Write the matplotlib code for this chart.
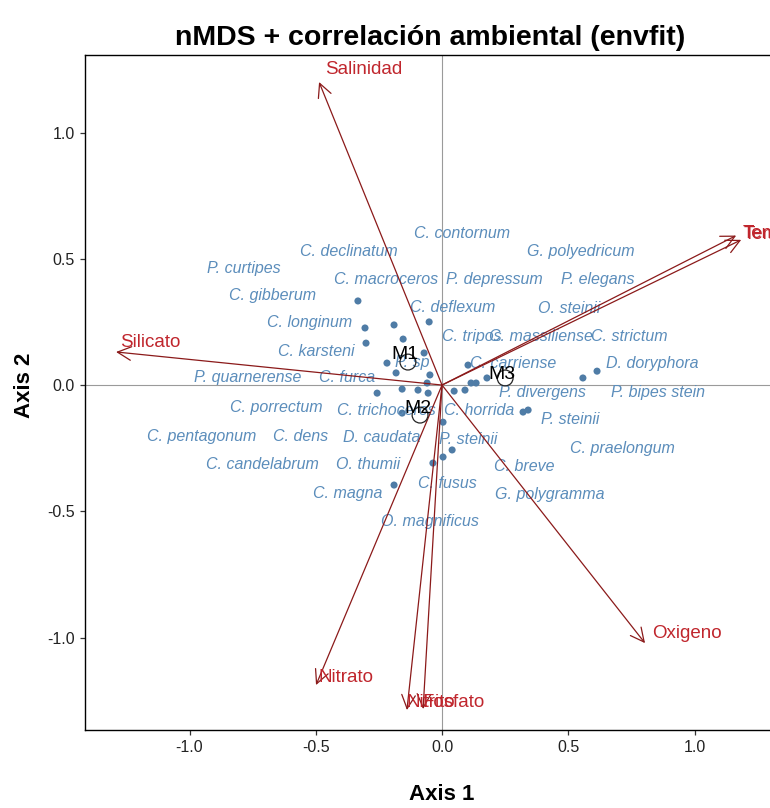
import numpy as np
import matplotlib.pyplot as plt

plt.rcParams['font.family'] = ['Liberation Sans', 'DejaVu Sans']

# species scores (points)
sp_x = [-0.333, -0.305, -0.190, -0.051, -0.301, -0.154, -0.071, -0.218, -0.182, -0.048,
        -0.059, -0.257, -0.158, -0.095, -0.055, 0.048, 0.091, -0.158, 0.004, 0.040,
        0.004, -0.036, -0.190, 0.103, 0.115, 0.135, 0.178, 0.558, 0.614, 0.321, 0.341]
sp_y = [0.333, 0.226, 0.238, 0.250, 0.166, 0.182, 0.127, 0.087, 0.048, 0.040,
        0.008, -0.032, -0.016, -0.020, -0.032, -0.024, -0.020, -0.111, -0.147, -0.257,
        -0.285, -0.309, -0.396, 0.079, 0.008, 0.008, 0.028, 0.028, 0.055, -0.107, -0.099]

# species labels
sp_names = ['C. contornum', 'G. polyedricum', 'P. depressum', 'P. elegans', 'C. deflexum',
            'O. steinii', 'C. tripos', 'C. massiliense', 'C. strictum', 'C. carriense',
            'D. doryphora', 'P. divergens', 'P. bipes stein', 'C. horrida', 'P. steinii',
            'P. steinii', 'C. praelongum', 'C. breve', 'C. fusus', 'G. polygramma',
            'O. magnificus', 'C. declinatum', 'P. curtipes', 'C. macroceros', 'C. gibberum',
            'C. longinum', 'C. karsteni', 'P. sp', 'P. quarnerense', 'C. furca',
            'C. porrectum', 'C. trichoceros', 'C. pentagonum', 'C. dens', 'D. caudata',
            'C. candelabrum', 'O. thumii', 'C. magna']
lab_x = [0.079, 0.550, 0.206, 0.618, 0.044, 0.503, 0.119, 0.392, 0.741, 0.281,
         0.832, 0.396, 0.855, 0.147, 0.507, 0.103, 0.713, 0.325, 0.020, 0.428,
         -0.048, -0.368, -0.784, -0.222, -0.673, -0.523, -0.499, -0.119, -0.768, -0.376,
         -0.657, -0.222, -0.950, -0.562, -0.238, -0.713, -0.293, -0.372]
lab_y = [0.602, 0.527, 0.416, 0.416, 0.309, 0.305, 0.194, 0.194, 0.194, 0.087,
         0.087, -0.028, -0.028, -0.099, -0.135, -0.214, -0.250, -0.321, -0.388, -0.432,
         -0.539, 0.527, 0.463, 0.416, 0.356, 0.246, 0.131, 0.091, 0.028, 0.028,
         -0.087, -0.099, -0.202, -0.202, -0.206, -0.313, -0.313, -0.428]

# sites
sites = ['M1', 'M2', 'M3']
site_x = [-0.135, -0.087, 0.250]
site_y = [0.091, -0.119, 0.028]
site_lab_x = [-0.147, -0.095, 0.238]
site_lab_y = [0.119, -0.091, 0.040]

# envfit vectors
env_names = ['Salinidad', 'Temperatura', 'Temperatura', 'Silicato', 'Oxigeno',
             'Nitrato', 'Nitrito', 'Fosfato']
env_x = [-0.487, 1.165, 1.185, -1.291, 0.804, -0.499, -0.139, -0.075]
env_y = [1.200, 0.592, 0.575, 0.131, -1.022, -1.188, -1.287, -1.283]
env_lab_x = [-0.463, 1.192, 1.196, -1.275, 0.832, -0.491, -0.139, -0.079]
env_lab_y = [1.248, 0.602, 0.598, 0.170, -0.982, -1.160, -1.259, -1.259]

fig = plt.figure(figsize=(7.7, 8.08), dpi=100)
ax = fig.add_axes([85 / 770, 78 / 808, 685 / 770, 675 / 808])

ax.axhline(0, color='#9a9a9a', lw=0.8, zorder=0)
ax.axvline(0, color='#9a9a9a', lw=0.8, zorder=0)

ax.scatter(sp_x, sp_y, s=26, color='#4f7ca6', edgecolor='none', zorder=2)

for name, x, y in zip(sp_names, lab_x, lab_y):
    ax.text(x, y, name, ha='center', va='center', fontsize=11.5, style='italic',
            color='#5b8dbb', zorder=3)

for x, y in zip(env_x, env_y):
    ax.annotate('', xy=(x, y), xytext=(0, 0),
                arrowprops=dict(arrowstyle='->,head_length=0.7,head_width=0.35',
                                color='#8b1a1a', lw=0.9, shrinkA=0, shrinkB=0,
                                mutation_scale=14), zorder=4)

for name, x, y in zip(env_names, env_lab_x, env_lab_y):
    ax.text(x, y, name, ha='left', va='center', fontsize=13.5, color='#c0262d',
            zorder=5, clip_on=False)

ax.scatter(site_x, site_y, s=130, facecolor='none', edgecolor='#222222',
           linewidth=0.9, zorder=6)
for name, x, y in zip(sites, site_lab_x, site_lab_y):
    ax.text(x, y, name, ha='center', va='center', fontsize=14, color='black', zorder=7)

ax.set_xlim(-1.414, 1.299)
ax.set_ylim(-1.366, 1.307)

ticks = [-1.0, -0.5, 0.0, 0.5, 1.0]
ax.set_xticks(ticks)
ax.set_xticklabels(['%.1f' % t for t in ticks])
ax.set_yticks(ticks)
ax.set_yticklabels(['%.1f' % t for t in ticks])
ax.tick_params(labelsize=11.5, labelcolor='#222222', length=3.5, width=0.9,
               color='#333333', pad=4)

for side in ['left', 'bottom', 'top']:
    ax.spines[side].set_linewidth(1.0)
    ax.spines[side].set_color('black')
ax.spines['right'].set_visible(False)

ax.set_xlabel('Axis 1', fontsize=16, fontweight='bold', va='center')
ax.xaxis.set_label_coords(0.52, -0.096)
ax.set_ylabel('Axis 2', fontsize=16, fontweight='bold', va='center')
ax.yaxis.set_label_coords(-0.088, 0.511)

fig.text(430 / 770, 1 - 38 / 808, 'nMDS + correlación ambiental (envfit)',
         ha='center', va='center', fontsize=20.5, fontweight='bold')

fig.savefig('out.png', dpi=100)
